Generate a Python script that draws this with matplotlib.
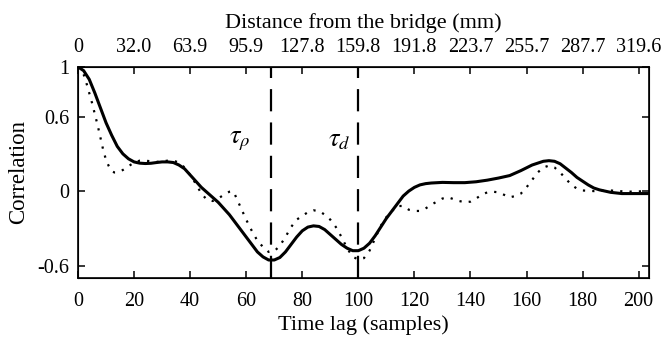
import matplotlib
matplotlib.use("Agg")
import matplotlib.pyplot as plt

plt.rcParams['font.family'] = ['Liberation Serif', 'DejaVu Serif']
plt.rcParams['mathtext.fontset'] = 'stix'
plt.rcParams['axes.unicode_minus'] = False

solid_lag = [0, 2, 4, 6, 8, 10, 12, 14, 16, 18, 20, 22, 24, 26, 28, 30, 32, 34, 36, 38,
             40, 42, 44, 46, 48, 50, 52, 54, 56, 58, 60, 62, 64, 66, 68, 70, 72, 74, 76, 78,
             80, 82, 84, 86, 88, 90, 92, 94, 96, 98, 100, 102, 104, 106, 108, 110, 112, 114,
             116, 118, 120, 122, 124, 126, 130, 134, 138, 142, 146, 150, 154, 158, 162, 166,
             168, 170, 172, 174, 176, 178, 180, 182, 184, 186, 188, 190, 194, 198, 204]
solid_val = [1.0, 0.97, 0.90, 0.79, 0.67, 0.55, 0.45, 0.36, 0.30, 0.26, 0.235, 0.225, 0.222,
             0.224, 0.23, 0.235, 0.235, 0.23, 0.21, 0.18, 0.13, 0.08, 0.03, -0.01, -0.05, -0.09,
             -0.14, -0.19, -0.25, -0.31, -0.37, -0.43, -0.49, -0.53, -0.555, -0.555, -0.535,
             -0.49, -0.43, -0.37, -0.32, -0.29, -0.28, -0.285, -0.31, -0.35, -0.39, -0.43,
             -0.46, -0.48, -0.48, -0.46, -0.42, -0.36, -0.29, -0.22, -0.16, -0.10, -0.04, 0.0,
             0.03, 0.05, 0.06, 0.065, 0.07, 0.068, 0.068, 0.075, 0.088, 0.105, 0.125, 0.165,
             0.21, 0.24, 0.245, 0.24, 0.22, 0.185, 0.15, 0.11, 0.08, 0.05, 0.025, 0.01, 0.0,
             -0.01, -0.02, -0.02, -0.02]

dot_lag = [0, 1, 2, 3, 4, 5, 6, 7, 8, 9, 10, 11, 12, 13, 14, 16, 18, 20, 22, 24, 26, 28, 30,
           32, 34, 36, 38, 40, 42, 44, 46, 48, 50, 52, 54, 55, 56, 58, 60, 62, 64, 66, 68, 70,
           72, 74, 76, 78, 80, 82, 84, 86, 88, 90, 92, 94, 96, 98, 100, 102, 104, 106, 108,
           110, 112, 114, 116, 118, 120, 122, 124, 126, 128, 130, 132, 134, 136, 138, 140, 142,
           144, 146, 148, 150, 152, 154, 156, 158, 160, 162, 164, 166, 168, 170, 172, 174, 176,
           178, 180, 184, 190, 196, 204]
dot_val = [1.0, 0.98, 0.94, 0.87, 0.79, 0.71, 0.62, 0.53, 0.43, 0.33, 0.25, 0.20, 0.16, 0.15,
           0.15, 0.17, 0.20, 0.23, 0.245, 0.245, 0.24, 0.235, 0.24, 0.245, 0.245, 0.23, 0.19,
           0.13, 0.06, -0.02, -0.07, -0.08, -0.06, -0.03, -0.005, 0.0, -0.03, -0.13, -0.23,
           -0.32, -0.40, -0.45, -0.49, -0.485, -0.44, -0.37, -0.29, -0.23, -0.20, -0.17,
           -0.155, -0.16, -0.19, -0.23, -0.29, -0.37, -0.46, -0.53, -0.55, -0.54, -0.48, -0.38,
           -0.28, -0.21, -0.16, -0.12, -0.12, -0.15, -0.16, -0.16, -0.14, -0.11, -0.085, -0.06,
           -0.05, -0.065, -0.08, -0.09, -0.085, -0.06, -0.03, -0.01, -0.005, -0.01, -0.03,
           -0.05, -0.04, -0.02, 0.03, 0.09, 0.15, 0.19, 0.205, 0.19, 0.15, 0.10, 0.05, 0.02,
           0.005, 0.0, 0.005, -0.005, 0.0]

tau_rho = 69
tau_d = 100

x_ticks = [0, 20, 40, 60, 80, 100, 120, 140, 160, 180, 200]
top_labels = ['0', '32.0', '63.9', '95.9', '127.8', '159.8', '191.8', '223.7', '255.7',
              '287.7', '319.6']
y_ticks = [1, 0.6, 0, -0.6]
y_labels = ['1', '0.6', '0', '-0.6']

fig = plt.figure(figsize=(6.64, 3.38), dpi=100)
ax = fig.add_axes([0.1175, 0.1775, 0.977 - 0.1175, 0.802 - 0.1775])

ax.plot(dot_lag, dot_val, color='black', lw=1.6, linestyle=(0, (1, 3.2)))
ax.plot(solid_lag, solid_val, color='black', lw=2.2)
for t in (tau_rho, tau_d):
    ax.plot([t, t], [-0.7, 1.0], color='black', lw=1.6, linestyle=(0, (10, 5)))

ax.text(57.8, 0.40, r'$\tau_\rho$', fontsize=19, ha='center', va='center')
ax.text(93.2, 0.40, r'$\tau_d$', fontsize=19, ha='center', va='center')

ax.set_xlim(0, 203.6)
ax.set_ylim(-0.7, 1.0)
ax.set_xticks(x_ticks)
ax.set_xticklabels([str(v) for v in x_ticks])
ax.set_yticks(y_ticks)
ax.set_yticklabels(y_labels)
ax.tick_params(direction='in', length=5, width=1.1, labelsize=14.5, right=True)
ax.tick_params(axis='x', pad=10)
ax.tick_params(axis='y', pad=6)
ax.set_xlabel('Time lag (samples)', fontsize=16, labelpad=3)
ax.set_ylabel('Correlation', fontsize=16.5, labelpad=6)
for s in ax.spines.values():
    s.set_linewidth(1.2)

ax2 = ax.twiny()
ax2.set_xlim(ax.get_xlim())
ax2.set_xticks(x_ticks)
ax2.set_xticklabels(top_labels)
ax2.tick_params(direction='in', length=5, width=1.1, labelsize=14.5, pad=7)
ax2.set_xlabel('Distance from the bridge (mm)', fontsize=16, labelpad=7)

fig.savefig('out.png', dpi=100)
